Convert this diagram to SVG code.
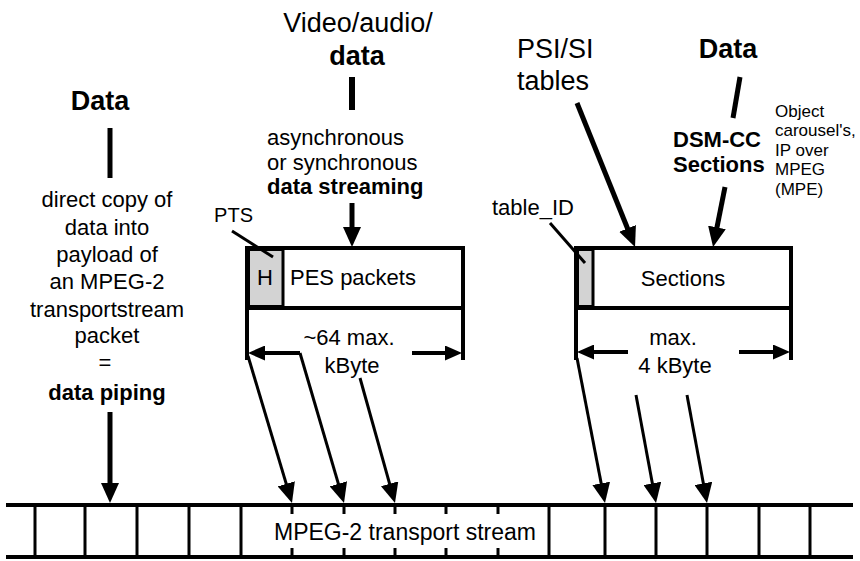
<svg xmlns="http://www.w3.org/2000/svg" width="860" height="561" viewBox="0 0 860 561">
<style>
text{font-family:"Liberation Sans",Arial,sans-serif;fill:#000}
.big{font-size:27px}
.bigb{font-size:27px;font-weight:bold}
.mid{font-size:22px}
.midb{font-size:22px;font-weight:bold}
.sm{font-size:17px}
.c{text-anchor:middle}
.box{fill:#fff;stroke:#000;stroke-width:4}
.hdr{fill:#d3d3d3;stroke:#000;stroke-width:3}
.thick{stroke:#000;stroke-width:5;fill:none}
.thin{stroke:#000;stroke-width:3;fill:none}
.dim{stroke:#000;stroke-width:4;fill:none}
.ts{stroke:#000;stroke-width:4;fill:none}
.tick{stroke:#000;stroke-width:3;fill:none}
</style>
<defs>
<marker id="ah" viewBox="0 0 20 18" refX="10" refY="9" markerWidth="20" markerHeight="18" markerUnits="userSpaceOnUse" orient="auto"><path d="M0,0 L20,9 L0,18 z" fill="#000"/></marker>
<marker id="ahs" viewBox="0 0 17 15" refX="8" refY="7.5" markerWidth="17" markerHeight="15" markerUnits="userSpaceOnUse" orient="auto"><path d="M0,0 L17,7.5 L0,15 z" fill="#000"/></marker>
</defs>
<rect width="860" height="561" fill="#fff"/>

<g id="data-left">
<text class="bigb c" x="100" y="110">Data</text>
<text class="mid c" x="107" y="207">direct copy of</text>
<text class="mid c" x="107" y="235">data into</text>
<text class="mid c" x="107" y="262">payload of</text>
<text class="mid c" x="107" y="289">an MPEG-2</text>
<text class="mid c" x="107" y="317">transportstream</text>
<text class="mid c" x="107" y="343">packet</text>
<text class="mid c" x="105" y="370">=</text>
<text class="midb c" x="107" y="400">data piping</text>
</g>

<g id="video-audio-data">
<text class="big c" x="358" y="32">Video/audio/</text>
<text class="bigb c" x="357" y="65">data</text>
<text class="mid" x="267" y="145">asynchronous</text>
<text class="mid" x="267" y="170">or synchronous</text>
<text class="midb" x="267" y="194">data streaming</text>
</g>

<g id="pes-packets">
<rect class="box" x="247" y="248" width="216" height="60"/>
<rect class="hdr" x="248.5" y="249.5" width="34.5" height="57"/>
<line class="dim" x1="247" y1="246" x2="247" y2="310"/>
<text class="mid c" x="265" y="285">H</text>
<text class="mid" x="290" y="285">PES packets</text>
<text class="mid" x="253" y="222" text-anchor="end" style="font-size:20px">PTS</text>
<line class="dim" x1="247" y1="306" x2="247" y2="360"/>
<line class="dim" x1="463" y1="306" x2="463" y2="360"/>
<text class="mid c" x="349" y="345">~64 max.</text>
<text class="mid c" x="352" y="373">kByte</text>
</g>

<g id="psi-si">
<text class="big" x="517" y="58">PSI/SI</text>
<text class="big" x="517" y="90">tables</text>
</g>

<g id="data-right">
<text class="bigb c" x="728" y="58">Data</text>
<text class="midb" x="673" y="147">DSM-CC</text>
<text class="midb" x="673" y="172">Sections</text>
<text class="sm" x="775" y="117">Object</text>
<text class="sm" x="775" y="136">carousel's,</text>
<text class="sm" x="775" y="156">IP over</text>
<text class="sm" x="775" y="175">MPEG</text>
<text class="sm" x="775" y="195">(MPE)</text>
</g>

<g id="sections">
<rect class="box" x="576" y="248" width="215" height="60"/>
<rect class="hdr" x="577.5" y="249.5" width="15.5" height="57"/>
<line class="dim" x1="576" y1="246" x2="576" y2="310"/>
<text class="mid" x="492" y="215">table_ID</text>
<text class="mid c" x="683" y="286">Sections</text>
<line class="dim" x1="576" y1="306" x2="576" y2="360"/>
<line class="dim" x1="791" y1="306" x2="791" y2="360"/>
<text class="mid c" x="673" y="345">max.</text>
<text class="mid c" x="675" y="373">4 kByte</text>
</g>

<g id="transport-stream">
<line class="ts" x1="6" y1="505" x2="853" y2="505"/>
<line class="ts" x1="6" y1="557" x2="853" y2="557"/>
<path class="tick" d="M35,505V557M85,505V557M137,505V557M189,505V557M241,505V557M549,505V557M605,505V557M656,505V557M707,505V557M759,505V557M810,505V557"/>
<path class="tick" d="M292,505V514M344,505V514M395,505V514M446,505V514M498,505V514M292,548V557M344,548V557M395,548V557M446,548V557M498,548V557"/>
<text class="mid c" x="405" y="540" style="font-size:23px">MPEG-2 transport stream</text>
</g>

<g id="connectors">
<line class="thick" x1="110" y1="128" x2="110" y2="178"/>
<line class="thick" x1="110" y1="412" x2="110" y2="493" marker-end="url(#ah)"/>
<line class="thick" x1="352" y1="77" x2="352" y2="110" style="stroke-width:6"/>
<line class="thick" x1="352" y1="203" x2="352" y2="237" marker-end="url(#ah)"/>
<line class="thin" x1="232" y1="231" x2="273" y2="257"/>
<line class="dim" x1="300" y1="353" x2="257" y2="353" marker-end="url(#ahs)"/>
<line class="dim" x1="412" y1="353" x2="453" y2="353" marker-end="url(#ahs)"/>
<line class="thin" x1="248" y1="356" x2="289.1" y2="493.4" marker-end="url(#ah)"/>
<line class="thin" x1="300" y1="353" x2="341.2" y2="493.4" marker-end="url(#ah)"/>
<line class="thin" x1="360" y1="378" x2="392.3" y2="493.4" marker-end="url(#ah)"/>
<line class="thick" x1="577" y1="103" x2="631.3" y2="237.7" marker-end="url(#ah)"/>
<line class="thick" x1="740" y1="77" x2="733" y2="118"/>
<line class="thick" x1="725" y1="187" x2="715" y2="237.2" marker-end="url(#ah)"/>
<line class="thin" x1="550" y1="223" x2="585" y2="263"/>
<line class="dim" x1="628" y1="352" x2="586" y2="352" marker-end="url(#ahs)"/>
<line class="dim" x1="739" y1="352" x2="781" y2="352" marker-end="url(#ahs)"/>
<line class="thin" x1="577" y1="358" x2="603.1" y2="493.2" marker-end="url(#ah)"/>
<line class="thin" x1="636" y1="395" x2="654.2" y2="493.2" marker-end="url(#ah)"/>
<line class="thin" x1="687" y1="395" x2="705.2" y2="493.2" marker-end="url(#ah)"/>
</g>
</svg>
